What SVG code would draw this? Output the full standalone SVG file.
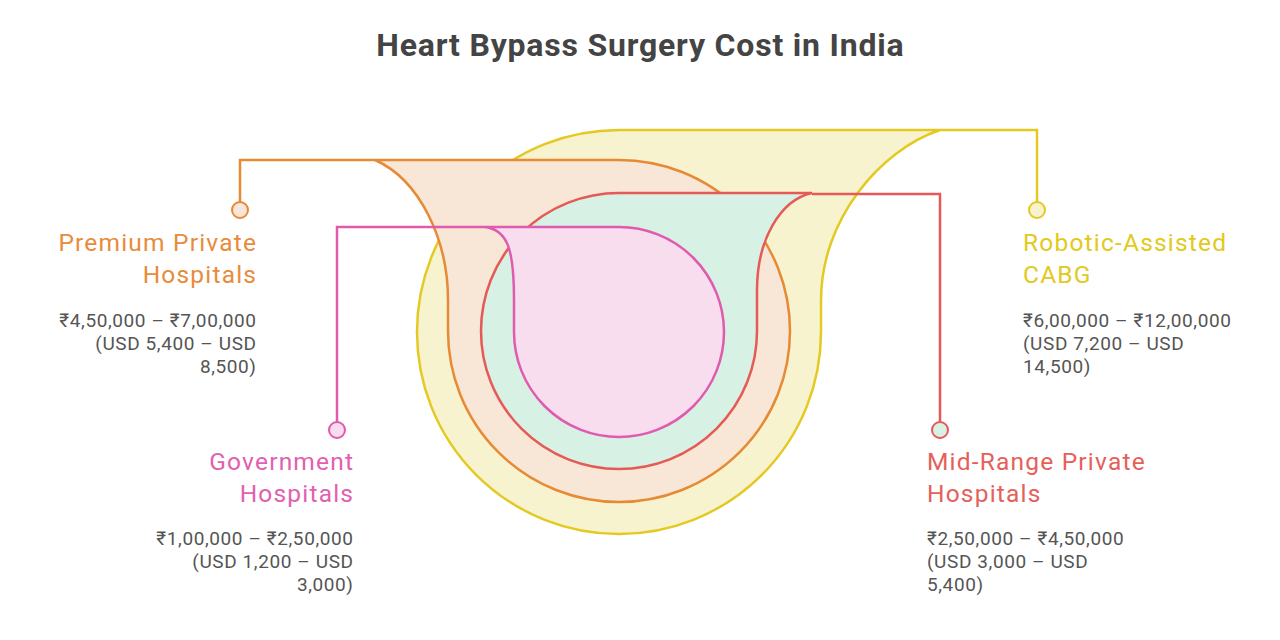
<svg xmlns="http://www.w3.org/2000/svg" width="1280" height="640" viewBox="0 0 1280 640">
<style>
.t{font-family:Roboto,"Liberation Sans",sans-serif}
.title{font-size:32px;font-weight:bold;fill:#444444;text-anchor:middle;letter-spacing:0.8px}
.h{font-size:24.5px;letter-spacing:1.2px}
.b{font-size:19px;fill:#555555;letter-spacing:0.6px}
.r{text-anchor:end}
.s{stroke-width:2.5}
.yl{stroke:#E3C922}.og{stroke:#E68A35}.rd{stroke:#E55A57}.pk{stroke:#E05BAE}
</style>
<rect width="1280" height="640" fill="#ffffff"/>
<text class="t title" x="640.4" y="56">Heart Bypass Surgery Cost in India</text>
<g id="shapes">
<path class="s yl" fill="#F8F3CF" d="M619 130 H940 C880 150 821 220 821 300 V332 A202 202 0 1 1 619 130 Z"/>
<path class="s og" fill="#F8E6D6" d="M375 160 H619 A171 171 0 1 1 448 331 V300 C448 240 420 180 375 160 Z"/>
<path class="s rd" fill="#D7F1E4" d="M619 193 H812 C780 200 757 240 757 290 V331 A138 138 0 1 1 619 193 Z"/>
<path class="s pk" fill="#F8DDEF" d="M485 227 H619 A105 105 0 1 1 514 332 V300 C514 250 508 230 485 227 Z"/>
</g>
<g id="connectors" fill="none" stroke-width="2.5">
<path class="og" d="M240 202 V160 H375"/>
<path class="pk" d="M337 422 V227 H485"/>
<path class="yl" d="M1037 202 V130 H940"/>
<path class="rd" d="M940 422 V194 H812"/>
</g>
<g id="premium">
<circle cx="240" cy="210" r="8" fill="#F8E6D6" stroke="#E68A35" stroke-width="2"/>
<text class="t h r" fill="#E88B3A"><tspan x="257.2" y="251">Premium Private</tspan><tspan x="257.2" y="283">Hospitals</tspan></text>
<text class="t b r"><tspan x="256.6" y="327">₹4,50,000 – ₹7,00,000</tspan><tspan x="256.6" y="350">(USD 5,400 – USD</tspan><tspan x="256.6" y="373">8,500)</tspan></text>
</g>
<g id="government">
<circle cx="337" cy="430" r="8" fill="#F8DDEF" stroke="#E05BAE" stroke-width="2"/>
<text class="t h r" fill="#E160B0"><tspan x="354.2" y="470">Government</tspan><tspan x="354.2" y="502">Hospitals</tspan></text>
<text class="t b r"><tspan x="353.6" y="545">₹1,00,000 – ₹2,50,000</tspan><tspan x="353.6" y="568">(USD 1,200 – USD</tspan><tspan x="353.6" y="591">3,000)</tspan></text>
</g>
<g id="robotic">
<circle cx="1037" cy="210" r="8" fill="#F8F3CF" stroke="#E3C922" stroke-width="2"/>
<text class="t h" fill="#E2C920"><tspan x="1023" y="251">Robotic-Assisted</tspan><tspan x="1023" y="283">CABG</tspan></text>
<text class="t b"><tspan x="1023" y="327">₹6,00,000 – ₹12,00,000</tspan><tspan x="1023" y="350">(USD 7,200 – USD</tspan><tspan x="1023" y="373">14,500)</tspan></text>
</g>
<g id="midrange">
<circle cx="940" cy="430" r="8" fill="#D7F1E4" stroke="#E55A57" stroke-width="2"/>
<text class="t h" fill="#E5605A"><tspan x="927" y="470">Mid-Range Private</tspan><tspan x="927" y="502">Hospitals</tspan></text>
<text class="t b"><tspan x="927" y="545">₹2,50,000 – ₹4,50,000</tspan><tspan x="927" y="568">(USD 3,000 – USD</tspan><tspan x="927" y="591">5,400)</tspan></text>
</g>
</svg>
